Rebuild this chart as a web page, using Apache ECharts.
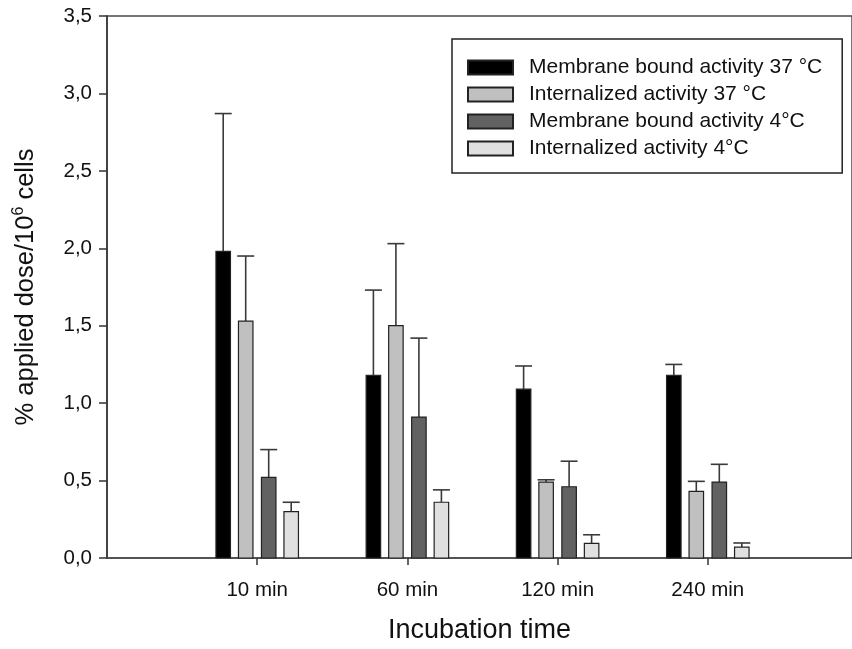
<!DOCTYPE html>
<html>
<head>
<meta charset="utf-8">
<script src="https://cdn.jsdelivr.net/npm/echarts@6/dist/echarts.min.js"></script>
<style>
  html, body { margin: 0; padding: 0; background: #fff; }
  #chart { width: 852px; height: 649px; }
</style>
</head>
<body>
<div id="chart"></div>
<script>
// Zeitpunkte (x-Achse)
const categories = ['10 min', '60 min', '120 min', '240 min'];

// Mittelwerte je Serie
const membrane37 = [1.98, 1.18, 1.09, 1.18];
const internal37 = [1.53, 1.50, 0.49, 0.43];
const membrane4 = [0.52, 0.91, 0.46, 0.49];
const internal4 = [0.30, 0.36, 0.095, 0.07];

// Standardabweichung (nur nach oben gezeichnet)
const membrane37Sd = [0.89, 0.55, 0.15, 0.07];
const internal37Sd = [0.42, 0.53, 0.015, 0.065];
const membrane4Sd = [0.18, 0.51, 0.165, 0.115];
const internal4Sd = [0.06, 0.08, 0.055, 0.027];

const seriesNames = [
  'Membrane bound activity 37 °C',
  'Internalized activity 37 °C',
  'Membrane bound activity 4°C',
  'Internalized activity 4°C'
];
const yTicks = [0, 0.5, 1, 1.5, 2, 2.5, 3, 3.5];

const fills = ['#000000', '#c0c0c0', '#626262', '#e0e0e0'];
const offsetsPx = [-34, -11.5, 11.5, 34];
const barW = 14.5;
const capW = 17;
const font = '"Liberation Sans", Arial, sans-serif';

const chart = echarts.init(document.getElementById('chart'));

function makeSeries(idx, means, sds) {
  return {
    name: seriesNames[idx],
    type: 'custom',
    itemStyle: { color: fills[idx], borderColor: '#222', borderWidth: 1.2 },
    data: means.map((v, i) => [i + 1, v, sds[i]]),
    renderItem: function (params, api) {
      const base = api.coord([api.value(0), 0]);
      const top = api.coord([api.value(0), api.value(1)]);
      const errTop = api.coord([api.value(0), api.value(1) + api.value(2)]);
      const cx = base[0] + offsetsPx[idx];
      return {
        type: 'group',
        children: [
          {
            type: 'line',
            shape: { x1: cx, y1: top[1], x2: cx, y2: errTop[1] },
            style: { stroke: '#3a3a3a', lineWidth: 1.6 }
          },
          {
            type: 'line',
            shape: { x1: cx - capW / 2, y1: errTop[1], x2: cx + capW / 2, y2: errTop[1] },
            style: { stroke: '#3a3a3a', lineWidth: 1.6 }
          },
          {
            type: 'rect',
            shape: { x: cx - barW / 2, y: top[1], width: barW, height: base[1] - top[1] },
            style: { fill: fills[idx], stroke: '#222', lineWidth: 1.2 }
          }
        ]
      };
    }
  };
}

const option = {
  animation: false,
  grid: {
    show: true,
    left: 107, top: 16, right: -6, bottom: 88,
    borderColor: '#4a4a4a', borderWidth: 1.5
  },
  legend: {
    orient: 'vertical',
    left: 452, top: 39,
    padding: [17, 20, 13, 15],
    borderColor: '#222', borderWidth: 1.5,
    itemGap: 4, itemWidth: 45, itemHeight: 14,
    icon: 'rect',
    selectedMode: false,
    textStyle: { fontFamily: font, fontSize: 21, lineHeight: 23, color: '#111', padding: [0, 0, 0, 11] },
    data: seriesNames
  },
  xAxis: {
    type: 'value',
    min: 0, max: 4.96,
    name: 'Incubation time',
    nameLocation: 'middle',
    nameGap: 59,
    nameTextStyle: { fontFamily: font, fontSize: 27, color: '#111' },
    axisLine: { lineStyle: { color: '#4a4a4a', width: 1.5 } },
    axisTick: { show: true, length: 7, customValues: [1, 2, 3, 4], lineStyle: { color: '#333', width: 1.5 } },
    axisLabel: {
      customValues: [1, 2, 3, 4],
      margin: 22,
      fontFamily: font, fontSize: 20.5, color: '#111',
      formatter: v => categories[Math.round(v) - 1] || ''
    },
    splitLine: { show: false }
  },
  yAxis: {
    type: 'value',
    min: 0, max: 3.5, interval: 0.5,
    name: '{a|% applied dose/10}{s|6}{a| cells}',
    nameLocation: 'middle',
    nameGap: 66,
    nameTextStyle: {
      rich: {
        a: { fontFamily: font, fontSize: 25.5, color: '#111', lineHeight: 30 },
        s: { fontFamily: font, fontSize: 16, color: '#111', verticalAlign: 'top', lineHeight: 30, padding: [0, 0, 10, 0] }
      }
    },
    axisLine: { show: true, lineStyle: { color: '#333', width: 1.5 } },
    axisTick: { show: true, length: 8, lineStyle: { color: '#333', width: 1.5 } },
    axisLabel: {
      margin: 15,
      fontFamily: font, fontSize: 20.5, color: '#111',
      customValues: yTicks,
      formatter: v => v.toFixed(1).replace('.', ',')
    },
    splitLine: { show: false }
  },
  series: [
    makeSeries(0, membrane37, membrane37Sd),
    makeSeries(1, internal37, internal37Sd),
    makeSeries(2, membrane4, membrane4Sd),
    makeSeries(3, internal4, internal4Sd)
  ]
};

chart.setOption(option);
</script>
</body>
</html>
